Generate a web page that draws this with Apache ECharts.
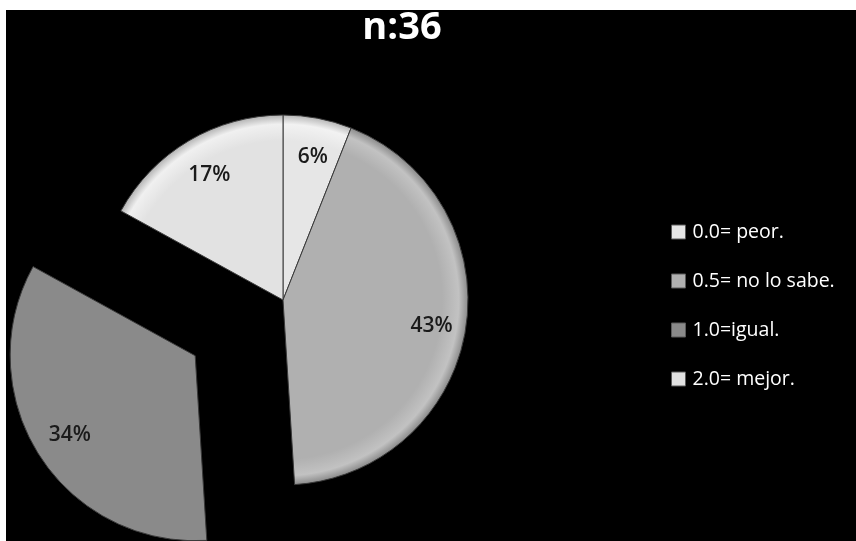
<!DOCTYPE html>
<html>
<head>
<meta charset="utf-8">
<script src="https://cdn.jsdelivr.net/npm/echarts@6/dist/echarts.min.js"></script>
<style>
  html, body { margin: 0; padding: 0; background: #ffffff; }
  #chart { width: 856px; height: 541px; }
</style>
</head>
<body>
<div id="chart"></div>
<script>
// Survey answers (n = 36), share of each answer in percent
const categories = ['0.0= peor.', '0.5= no lo sabe.', '1.0=igual.', '2.0= mejor.'];
const percents = [6, 43, 34, 17];
const exploded = [false, false, true, false];
const titleText = 'n:36';

// Slice tones: base, soft rim highlight, edge shade
const baseColors = ['#e6e6e6', '#b0b0b0', '#8a8a8a', '#e2e2e2'];
const rimColors = ['#f2f2f2', '#c2c2c2', '#9c9c9c', '#f0f0f0'];
const edgeColors = ['#b8b8b8', '#8c8c8c', '#6c6c6c', '#b4b4b4'];

const CX = 283, CY = 300, R = 185, EXPLODE = 104;

const total = percents.reduce((a, b) => a + b, 0);

function sliceCenter(i) {
  if (!exploded[i]) return [CX, CY];
  let before = 0;
  for (let k = 0; k < i; k++) before += percents[k];
  const mid = (before + percents[i] / 2) / total * Math.PI * 2;
  return [CX + Math.sin(mid) * EXPLODE, CY - Math.cos(mid) * EXPLODE];
}

function bevel(i) {
  const c = sliceCenter(i);
  return {
    type: 'radial', x: c[0], y: c[1], r: R, global: true,
    colorStops: [
      { offset: 0, color: baseColors[i] },
      { offset: 0.86, color: baseColors[i] },
      { offset: 0.95, color: rimColors[i] },
      { offset: 1, color: edgeColors[i] }
    ]
  };
}

const sliceData = categories.map((name, i) => ({
  name: name,
  value: percents[i],
  selected: exploded[i],
  itemStyle: { color: bevel(i) },
  select: { itemStyle: { color: bevel(i) } }
}));

const labelData = categories.map((name, i) => ({
  name: name,
  value: percents[i],
  selected: exploded[i]
}));

const chart = echarts.init(document.getElementById('chart'), null, { renderer: 'canvas' });

chart.setOption({
  backgroundColor: '#ffffff',
  animation: false,
  graphic: [{
    type: 'rect', z: -10, silent: true,
    shape: { x: 6, y: 10, width: 850, height: 531 },
    style: { fill: '#000000' }
  }],
  title: {
    text: titleText,
    left: 397, top: 4, textAlign: 'center',
    textStyle: { color: '#ffffff', fontFamily: 'Open Sans', fontWeight: 'bold', fontSize: 38 }
  },
  legend: {
    orient: 'vertical',
    left: 666, top: 216,
    itemWidth: 14, itemHeight: 14, itemGap: 27,
    selectedMode: false,
    icon: 'rect',
    textStyle: { color: '#ffffff', fontFamily: 'Open Sans', fontSize: 19.5, lineHeight: 22, padding: [0, 0, 0, 2] },
    data: categories.map((name, i) => ({
      name: name,
      itemStyle: { color: baseColors[i], borderColor: '#5a5a5a', borderWidth: 1 }
    }))
  },
  series: [
    {
      type: 'pie',
      center: [CX, CY],
      radius: [0, R],
      startAngle: 90,
      clockwise: true,
      selectedMode: 'single',
      selectedOffset: EXPLODE,
      label: { show: false },
      labelLine: { show: false },
      emphasis: { disabled: true },
      itemStyle: { borderColor: '#3a3a3a', borderWidth: 1 },
      data: sliceData
    },
    {
      type: 'pie',
      silent: true,
      center: [CX, CY],
      radius: [106, R],
      startAngle: 90,
      clockwise: true,
      selectedMode: 'single',
      selectedOffset: EXPLODE,
      itemStyle: { color: 'rgba(0,0,0,0)', borderWidth: 0 },
      select: { itemStyle: { color: 'rgba(0,0,0,0)' } },
      emphasis: { disabled: true },
      labelLine: { show: false },
      label: {
        show: true,
        position: 'inside',
        formatter: '{c}%',
        color: '#1a1a1a',
        fontFamily: 'Open Sans',
        fontWeight: 600,
        fontSize: 21,
        offset: [2, 3]
      },
      data: labelData
    }
  ]
});
</script>
</body>
</html>
